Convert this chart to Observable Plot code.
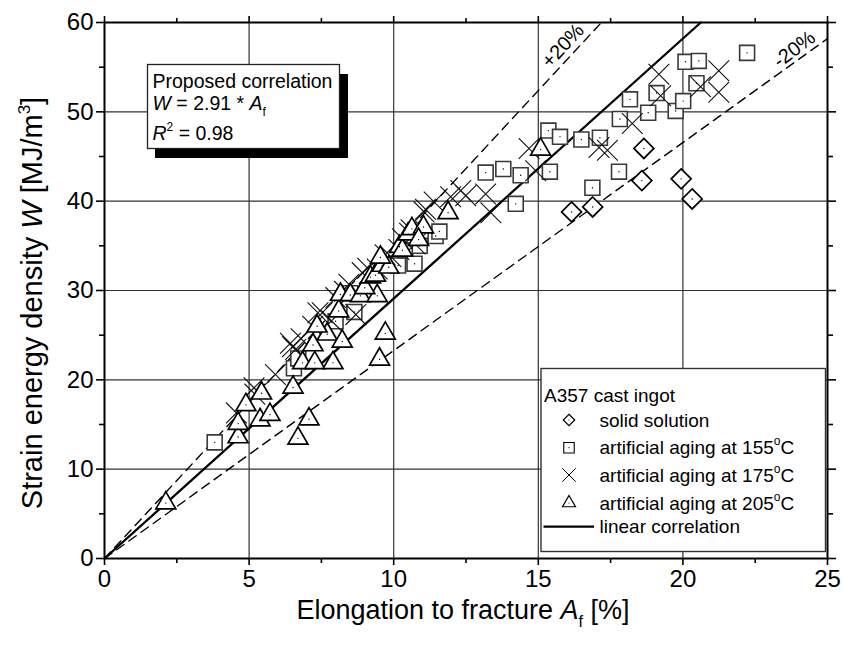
<!DOCTYPE html>
<html><head><meta charset="utf-8">
<script src="https://cdn.jsdelivr.net/npm/d3@7"></script>
<script src="https://cdn.jsdelivr.net/npm/@observablehq/plot@0.6"></script>
<style>
html,body{margin:0;padding:0;background:#fff;}
#chart{width:843px;height:655px;}
svg text{font-family:"Liberation Sans", Arial, sans-serif;}
</style></head><body><div id="chart"></div>
<script>
// ---- data ----
const ssX = [16.15, 16.88, 18.58, 18.65, 19.94, 20.32];
const ssY = [38.8, 39.35, 42.3, 45.9, 42.5, 40.25];

const a155X = [3.81, 6.55, 6.7, 7.99, 8.5, 8.64, 10.15, 10.4, 10.72, 10.9, 11.45, 11.58,
  13.18, 13.79, 14.39, 14.22, 15.35, 15.75, 15.4, 16.49, 17.13, 16.87, 17.79, 17.82,
  18.17, 18.8, 19.09, 19.75, 20.01, 20.09, 20.55, 20.47, 22.22];
const a155Y = [13.0, 21.3, 22.4, 26.55, 29.7, 27.6, 32.8, 34.5, 33.0, 35.0, 36.1, 36.6,
  43.2, 43.6, 42.9, 39.7, 47.9, 47.2, 43.3, 46.9, 47.1, 41.5, 43.3, 49.2,
  51.4, 49.9, 52.1, 50.1, 51.2, 55.6, 55.7, 53.2, 56.6];

const a175X = [4.56, 5.17, 5.2, 5.91, 6.43, 6.61, 6.5, 6.8, 7.2, 7.53, 7.38, 7.85, 8.0, 8.3,
  8.69, 8.45, 8.91, 9.1, 9.43, 9.7, 9.9, 10.18, 10.3, 10.6, 10.74, 10.55, 11.05, 11.1,
  11.4, 11.97, 12.32, 12.49, 13.18, 13.36, 14.68, 14.91, 17.1, 17.39, 18.25, 19.17,
  19.23, 20.61, 21.24, 21.24];
const a175Y = [16.3, 19.1, 18.4, 20.6, 24.1, 23.4, 23.7, 24.6, 26.0, 27.5, 27.5, 26.6, 29.2, 29.9,
  27.3, 30.7, 32.0, 32.5, 32.4, 34.0, 33.8, 34.6, 35.8, 36.8, 35.2, 36.4, 38.8, 39.1,
  39.9, 40.5, 41.2, 40.6, 40.8, 38.7, 45.9, 43.4, 46.0, 45.7, 48.7, 54.2,
  51.8, 52.8, 54.6, 52.2];

const a205X = [2.12, 4.62, 4.62, 4.89, 5.43, 5.38, 5.72, 6.52, 6.69, 7.07, 6.85, 7.27,
  7.9, 7.21, 7.7, 8.22, 7.35, 8.1, 8.16, 8.5, 8.85, 9.43, 9.0, 9.2, 9.37, 9.6, 9.83, 9.54,
  10.2, 10.3, 10.5, 10.63, 11.03, 10.86, 11.88, 9.71, 9.51, 15.08];
const a205Y = [6.2, 13.6, 15.1, 17.2, 18.5, 15.5, 16.1, 19.15, 13.45, 15.6, 21.9, 21.9,
  21.9, 23.9, 25.1, 24.3, 26.0, 27.7, 29.55, 29.5, 29.4, 29.4, 30.3, 31.5, 31.7, 32.8, 32.6, 33.7,
  34.9, 34.5, 36.3, 36.9, 37.1, 35.7, 38.7, 25.2, 22.3, 45.8];

const slope = 2.91;          // W = 2.91 * Af
const band = [1.2, 0.8];     // +20% / -20%
const xTicks = [0, 5, 10, 15, 20, 25];
const xMinorTicks = [2.5, 7.5, 12.5, 17.5, 22.5];
const yTicks = [0, 10, 20, 30, 40, 50, 60];
const yMinorTicks = [5, 15, 25, 35, 45, 55];
const xGrid = [5, 10, 15, 20];
const yGrid = [10, 20, 30, 40, 50];
const bandLabels = ["+20%", "-20%"];

// ---- build tables ----
const zip = (xs, ys) => xs.map((x, i) => ({x, y: ys[i]}));
const ss = zip(ssX, ssY), s155 = zip(a155X, a155Y), s175 = zip(a175X, a175Y), s205 = zip(a205X, a205Y);
const X0 = 0, X1 = 25, Y1 = 60;
const fitLine = [{x: 0, y: 0}, {x: Y1 / slope, y: Y1}];
const plusLine = [{x: 0, y: 0}, {x: Y1 / (slope * band[0]), y: Y1}];
const minusLine = [{x: 0, y: 0}, {x: X1, y: X1 * slope * band[1]}];
const labelData = [
  {t: bandLabels[0], x: 15.85, y: 57.4, r: -47},
  {t: bandLabels[1], x: 23.85, y: 57.0, r: -37}
];

const hollow = (data, symbol, r, stroke, sw) => [
  Plot.dot(data, {x: "x", y: "y", symbol, r, stroke, strokeWidth: sw, fill: "white"}),
  Plot.dot(data, {x: "x", y: "y", r: 0.7, fill: "#000", stroke: "none"})
];

const axisOpts = {label: null, stroke: "#000", strokeWidth: 1.6};
const plot = Plot.plot({
  width: 843, height: 655,
  marginLeft: 104, marginRight: 16, marginTop: 22, marginBottom: 97,
  x: {domain: [X0, X1], axis: null},
  y: {domain: [0, Y1], axis: null},
  style: {fontFamily: "Liberation Sans, Arial, sans-serif", color: "#000", background: "#fff", overflow: "visible"},
  marks: [
    Plot.ruleX(xGrid, {stroke: "#333", strokeWidth: 1.2}),
    Plot.ruleY(yGrid, {stroke: "#333", strokeWidth: 1.2}),
    Plot.line(minusLine, {x: "x", y: "y", stroke: "#000", strokeWidth: 1.4, strokeDasharray: "9,6"}),
    Plot.line(plusLine, {x: "x", y: "y", stroke: "#000", strokeWidth: 1.4, strokeDasharray: "9,6"}),
    Plot.line(fitLine, {x: "x", y: "y", stroke: "#000", strokeWidth: 2.3}),
    ...hollow(ss, "diamond2", 9, "#000", 1.7),
    ...hollow(s155, "square2", 9.5, "#3a3a3a", 1.6),
    Plot.dot(s175, {x: "x", y: "y", symbol: "times", r: 9.5, stroke: "#111", strokeWidth: 1.1}),
    ...hollow(s205, "triangle2", 9.5, "#000", 1.7),
    Plot.text(labelData, {x: "x", y: "y", text: "t", rotate: "r", fontSize: 20, fill: "#000"}),
    Plot.frame({stroke: "#000", strokeWidth: 2}),
    Plot.axisX({...axisOpts, anchor: "bottom", ticks: xTicks, tickSize: 7, tickPadding: 4, fontSize: 24, tickFormat: d => String(d)}),
    Plot.axisX({...axisOpts, anchor: "bottom", ticks: xMinorTicks, tickSize: 5, tickFormat: () => ""}),
    Plot.axisX({...axisOpts, anchor: "top", ticks: xTicks, tickSize: 7, tickFormat: () => ""}),
    Plot.axisX({...axisOpts, anchor: "top", ticks: xMinorTicks, tickSize: 5, tickFormat: () => ""}),
    Plot.axisY({...axisOpts, anchor: "left", ticks: yTicks, tickSize: 8, tickPadding: 3, fontSize: 24, tickFormat: d => String(d)}),
    Plot.axisY({...axisOpts, anchor: "left", ticks: yMinorTicks, tickSize: 5, tickFormat: () => ""}),
    Plot.axisY({...axisOpts, anchor: "right", ticks: yTicks, tickSize: 8, tickFormat: () => ""}),
    Plot.axisY({...axisOpts, anchor: "right", ticks: yMinorTicks, tickSize: 5, tickFormat: () => ""})
  ]
});
document.getElementById("chart").appendChild(plot);

// ---- rich text, annotation box and legend ----
const svg = d3.select(plot);
const FF = "Liberation Sans, Arial, sans-serif";

// axis titles
const xt = svg.append("text").attr("x", 463).attr("y", 619).attr("text-anchor", "middle")
  .attr("font-size", 27).attr("font-family", FF).attr("fill", "#000");
xt.append("tspan").text("Elongation to fracture ");
xt.append("tspan").attr("font-style", "italic").text("A");
xt.append("tspan").attr("font-size", 16).attr("dy", 8).text("f");
xt.append("tspan").attr("dy", -8).text(" [%]");

const yt = svg.append("text").attr("transform", "translate(42,303) rotate(-90)").attr("text-anchor", "middle")
  .attr("font-size", 29).attr("font-family", FF).attr("fill", "#000");
yt.append("tspan").text("Strain energy density ");
yt.append("tspan").attr("font-style", "italic").text("W");
yt.append("tspan").text(" [MJ/m");
yt.append("tspan").attr("font-size", 17).attr("dy", -12).text("3");
yt.append("tspan").attr("dy", 12).text("]");

// annotation box with shadow
const ann = svg.append("g").attr("font-family", FF).attr("font-size", 19.5).attr("fill", "#000").attr("text-anchor", "start");
ann.append("rect").attr("x", 155).attr("y", 74).attr("width", 193).attr("height", 84).attr("fill", "#000");
ann.append("rect").attr("x", 147.5).attr("y", 64.5).attr("width", 192).attr("height", 84)
  .attr("fill", "#fff").attr("stroke", "#222").attr("stroke-width", 1.3);
ann.append("text").attr("x", 152.5).attr("y", 87.5).text("Proposed correlation");
const t2 = ann.append("text").attr("x", 152.5).attr("y", 109.5);
t2.append("tspan").attr("font-style", "italic").text("W");
t2.append("tspan").text(" = 2.91 * ");
t2.append("tspan").attr("font-style", "italic").text("A");
t2.append("tspan").attr("font-size", 12).attr("dy", 6).text("f");
const t3 = ann.append("text").attr("x", 152.5).attr("y", 140);
t3.append("tspan").attr("font-style", "italic").text("R");
t3.append("tspan").attr("font-size", 12).attr("dy", -9).text("2");
t3.append("tspan").attr("dy", 9).text(" = 0.98");

// legend
const lg = svg.append("g").attr("font-family", FF).attr("font-size", 19).attr("fill", "#000").attr("text-anchor", "start");
lg.append("rect").attr("x", 541).attr("y", 368.5).attr("width", 284.5).attr("height", 183)
  .attr("fill", "#fff").attr("stroke", "#333").attr("stroke-width", 1.4);
lg.append("text").attr("x", 544).attr("y", 401.5).text("A357 cast ingot");
const items = [
  {sym: d3.symbolDiamond2, size: 85, cy: 420, label: "solid solution", sw: 1.2},
  {sym: d3.symbolSquare2, size: 140, cy: 447.7, label: "artificial aging at 155", sup: true, sw: 1.1},
  {sym: d3.symbolTimes, size: 120, cy: 475, label: "artificial aging at 175", sup: true, sw: 1, cross: true},
  {sym: d3.symbolTriangle2, size: 120, cy: 503, label: "artificial aging at 205", sup: true, sw: 1.2}
];
items.forEach((it) => {
  lg.append("path").attr("d", d3.symbol(it.sym, it.size)()).attr("transform", `translate(569,${it.cy})`)
    .attr("fill", "none").attr("stroke", "#000").attr("stroke-width", it.sw);
  if (!it.cross) lg.append("circle").attr("cx", 569).attr("cy", it.cy).attr("r", 0.6).attr("fill", "#000");
  const tx = lg.append("text").attr("x", 599.5).attr("y", it.cy + 6.5);
  tx.append("tspan").text(it.label);
  if (it.sup) {
    tx.append("tspan").attr("font-size", 12).attr("dy", -9).text("o");
    tx.append("tspan").attr("dy", 9).text("C");
  }
});
lg.append("line").attr("x1", 543.5).attr("x2", 594).attr("y1", 526.7).attr("y2", 526.7)
  .attr("stroke", "#000").attr("stroke-width", 2.2);
lg.append("text").attr("x", 599.5).attr("y", 533.3).text("linear correlation");
</script>
</body></html>
